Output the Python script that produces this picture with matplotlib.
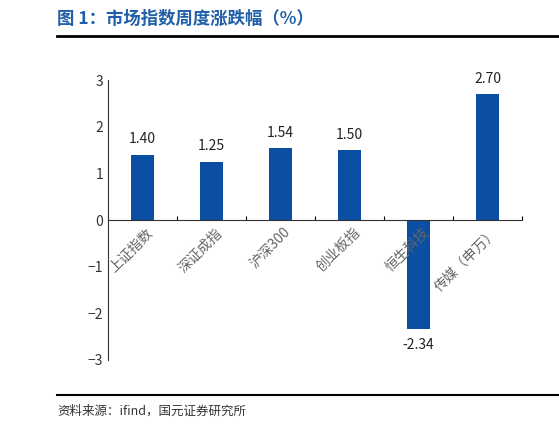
import matplotlib.pyplot as plt
import numpy as np

plt.rcParams['font.family'] = ['Noto Sans CJK SC', 'DejaVu Sans']

categories = ['上证指数', '深证成指', '沪深300', '创业板指', '恒生科技', '传媒（申万）']
values = [1.40, 1.25, 1.54, 1.50, -2.34, 2.70]
blue = '#0b4fa3'

fig = plt.figure(figsize=(5.59, 4.29), dpi=100)
fig.text(0.102, 0.955, '图 1：市场指数周度涨跌幅（%）', color='#1f5ea8', fontsize=12.5,
         fontweight='bold', va='center')
fig.add_artist(plt.Line2D([0.102, 1.0], [0.916, 0.916], color='black', lw=2))
fig.add_artist(plt.Line2D([0.102, 1.0], [0.079, 0.079], color='black', lw=1.5))
fig.text(0.102, 0.042, '资料来源：ifind，国元证券研究所', fontsize=9, color='#333333', va='center')

ax = fig.add_axes([0.193, 0.161, 0.741, 0.652])
x = np.arange(len(categories))
ax.bar(x, values, width=0.33, color=blue)
ax.set_xlim(-0.5, len(categories) - 0.5)
ax.set_ylim(-3, 3)
ax.set_yticks(range(-3, 4))
ax.tick_params(axis='y', length=0, labelsize=10, colors='#333333')
for s in ['top', 'right']:
    ax.spines[s].set_visible(False)
ax.spines['bottom'].set_position(('data', 0))
ax.spines['left'].set_color('#333333')
ax.spines['bottom'].set_color('#333333')
ax.set_xticks(np.arange(-0.5, len(categories)))
ax.set_xticklabels([])
ax.tick_params(axis='x', direction='in', length=3)

for i, (c, v) in enumerate(zip(categories, values)):
    off = 0.18 if v > 0 else -0.18
    ax.text(i, v + off, f'{v:.2f}', ha='center', va='bottom' if v > 0 else 'top',
            fontsize=10, color='#222222')
    ax.text(i + 0.05, -0.12, c, rotation=45, rotation_mode='anchor', ha='right', va='top',
            fontsize=10, color='#666666')

fig.savefig('out.png', dpi=100)
